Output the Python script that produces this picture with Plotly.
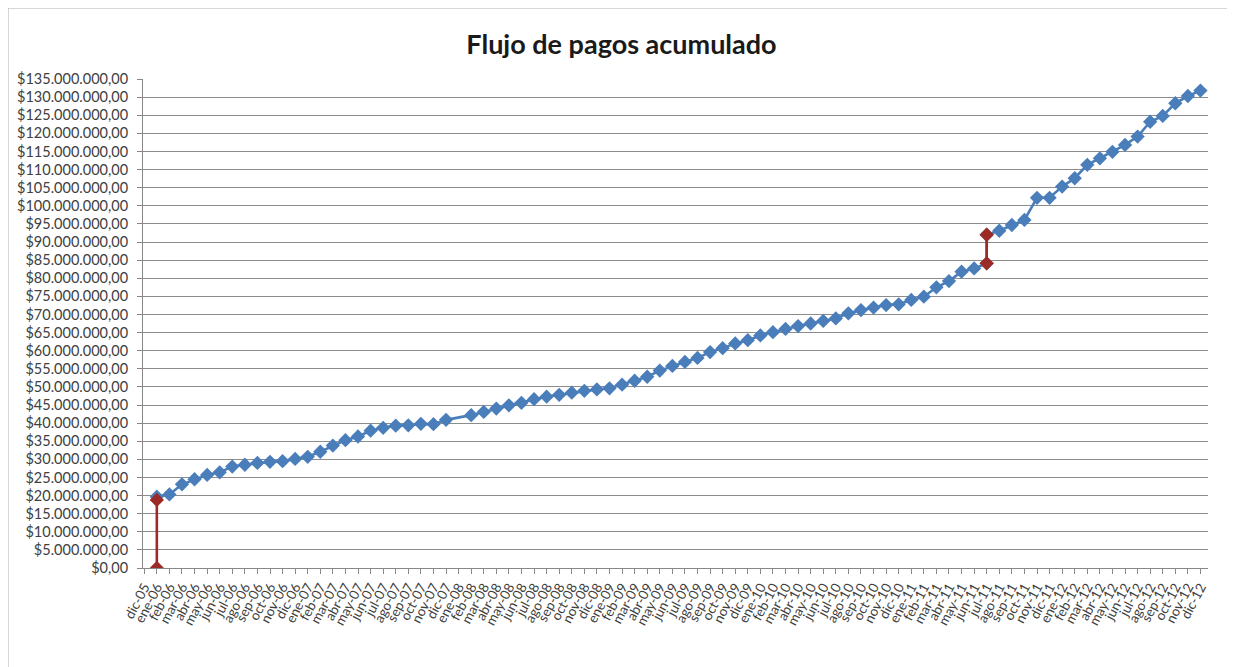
import plotly.graph_objects as go

# ---- data -------------------------------------------------------------
meses = ["ene", "feb", "mar", "abr", "may", "jun", "jul", "ago", "sep", "oct", "nov", "dic"]
etiquetas = ["dic-05"] + [f"{m}-{a:02d}" for a in range(6, 13) for m in meses]

# accumulated payments, millions of pesos, one per label (None = no point)
pagos = [
    None,                                                   # dic-05
    19.7, 20.3, 23.1, 24.5, 25.7, 26.4, 28.0, 28.5, 29.0, 29.3, 29.5, 30.1,   # 2006
    30.7, 32.1, 33.8, 35.3, 36.3, 37.9, 38.7, 39.3, 39.4, 39.8, 39.7, 40.9,   # 2007
    None, 42.2, 43.1, 44.0, 44.9, 45.6, 46.6, 47.3, 47.8, 48.4, 48.9, 49.3,   # 2008
    49.6, 50.6, 51.7, 52.8, 54.5, 55.8, 56.9, 58.0, 59.6, 60.7, 62.0, 62.9,   # 2009
    64.2, 65.1, 66.0, 66.8, 67.5, 68.2, 68.9, 70.3, 71.2, 71.9, 72.6, 72.8,   # 2010
    74.0, 74.9, 77.5, 79.2, 81.8, 82.7, 84.1, 93.1, 94.7, 96.1, 102.2, 102.2, # 2011
    105.3, 107.6, 111.3, 113.1, 114.9, 116.8, 119.1, 123.2, 124.8, 128.3, 130.3, 131.8,  # 2012
]

# vertical jumps (red series)
salto_mes = ["ene-06", "ene-06", None, "jul-11", "jul-11"]
salto_val = [0.0, 18.8, None, 84.1, 92.0]

y_ticks = [v * 5 for v in range(0, 28)]  # millions

# ---- build blue series (the jump month carries both values) ------------
bx, by = [], []
for m, v in zip(etiquetas, pagos):
    if v is None:
        continue
    bx.append(m)
    by.append(v * 1e6)
    if m == salto_mes[3]:
        bx.append(m)
        by.append(salto_val[4] * 1e6)

rx = salto_mes
ry = [None if v is None else v * 1e6 for v in salto_val]


def fmt(v):
    s = f"${v * 1e6:,.2f}"
    return s.replace(",", "X").replace(".", ",").replace("X", ".")


fig = go.Figure()
fig.add_trace(go.Scatter(
    x=bx, y=by, mode="lines+markers", connectgaps=True,
    line=dict(color="#4A7EBB", width=2.6),
    marker=dict(symbol="diamond", size=11, color="#4A7EBB"),
    showlegend=False,
))
fig.add_trace(go.Scatter(
    x=rx, y=ry, mode="lines+markers", connectgaps=False,
    line=dict(color="#9C2B27", width=2.6),
    marker=dict(symbol="diamond", size=11, color="#9C2B27"),
    showlegend=False,
))

# page body has an 8px margin: size the figure so the plot lands where it should
W, H = 1227, 659
L, T = 135, 71
pw, ph = 1065, 489
R, B = W - L - pw, H - T - ph

fig.update_layout(
    width=W, height=H,
    margin=dict(l=L, r=R, t=T, b=B, autoexpand=False),
    paper_bgcolor="white", plot_bgcolor="white",
    font=dict(family="Lato, Calibri, sans-serif", color="#404040"),
    title=dict(text="<b>Flujo de pagos acumulado</b>", x=0.5, xanchor="center",
               y=1 - 37 / H, yanchor="middle",
               font=dict(size=27, color="#1a1a1a", family="Lato, sans-serif")),
    xaxis=dict(
        type="category", categoryorder="array", categoryarray=etiquetas,
        range=[-0.1, 84.6], tickmode="array", tickvals=etiquetas, ticktext=etiquetas,
        tickangle=-62, tickfont=dict(size=13.5, color="#404040"), automargin=False,
        showgrid=False, showline=True, linecolor="#888888", linewidth=1,
        ticks="outside", ticklen=5, tickcolor="#888888", zeroline=False,
    ),
    yaxis=dict(
        range=[0, 135e6], tickmode="array",
        tickvals=[v * 1e6 for v in y_ticks], ticktext=[fmt(v) for v in y_ticks],
        tickfont=dict(size=14.5, color="#404040"), ticklabelstandoff=6, automargin=False,
        showgrid=True, gridcolor="#8c8c8c", gridwidth=1,
        showline=True, linecolor="#888888", linewidth=1,
        ticks="outside", ticklen=5, tickcolor="#888888", zeroline=False,
    ),
    shapes=[dict(type="rect", xref="paper", yref="paper",
                 x0=(0 - L) / pw, x1=(1220 - L) / pw,
                 y0=-(H + 20 - (T + ph)) / ph, y1=1 + T / ph,
                 line=dict(color="#b0b0b0", width=1), layer="below")],
)

fig.write_html("out.html")
